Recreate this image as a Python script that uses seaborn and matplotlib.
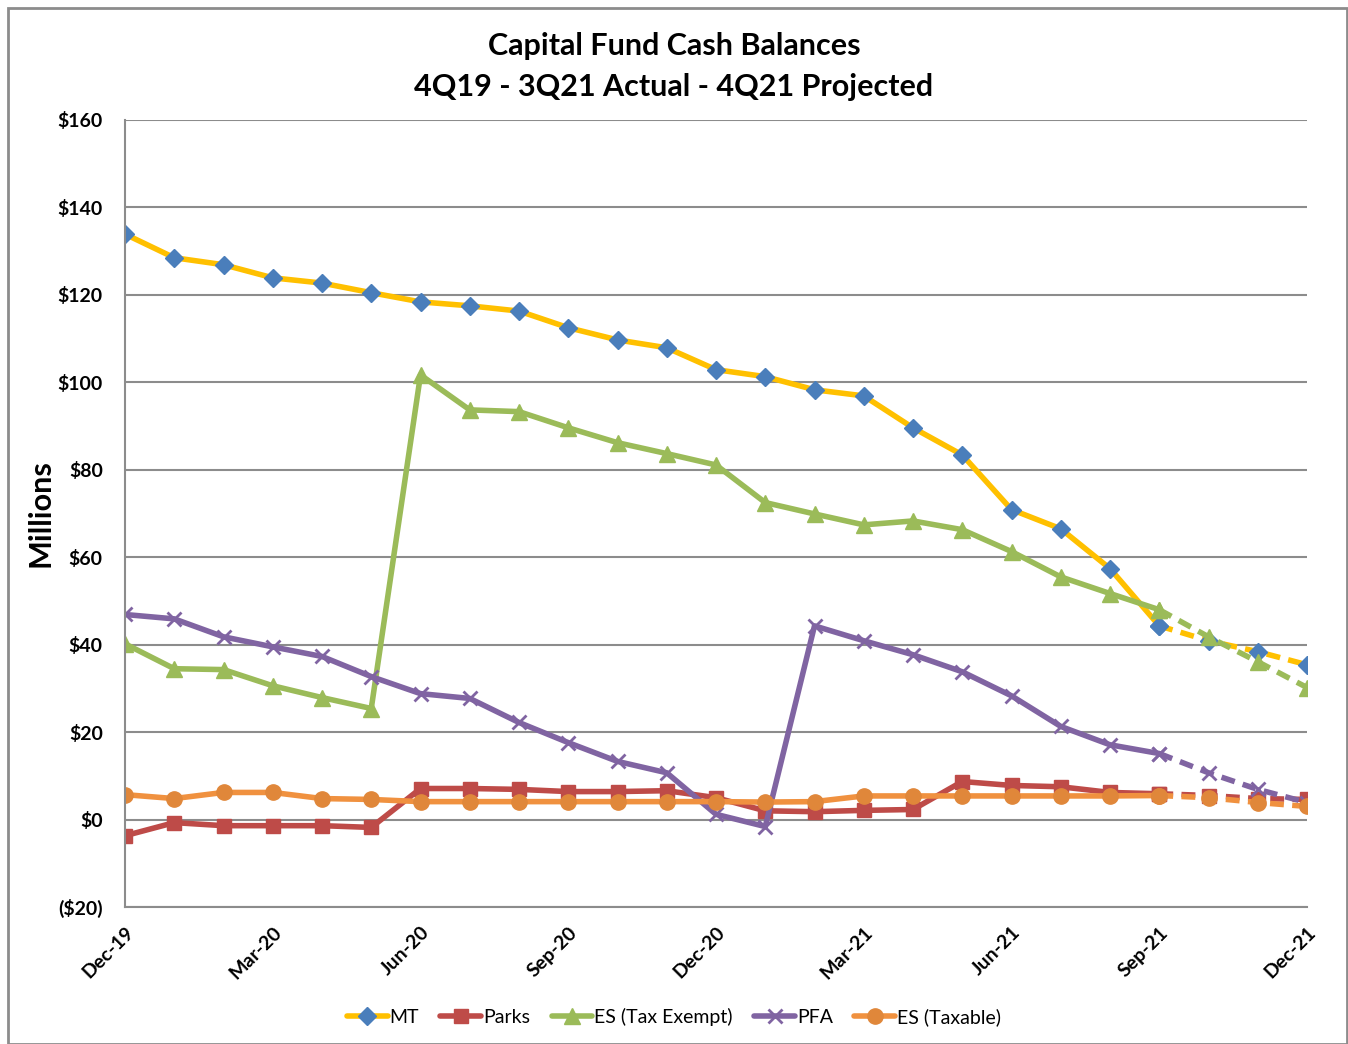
import numpy as np
import pandas as pd
import seaborn as sns
import matplotlib.pyplot as plt
from matplotlib.lines import Line2D
from matplotlib.patches import Rectangle

months = ["Dec-19", "Jan-20", "Feb-20", "Mar-20", "Apr-20", "May-20", "Jun-20", "Jul-20",
          "Aug-20", "Sep-20", "Oct-20", "Nov-20", "Dec-20", "Jan-21", "Feb-21", "Mar-21",
          "Apr-21", "May-21", "Jun-21", "Jul-21", "Aug-21", "Sep-21", "Oct-21", "Nov-21", "Dec-21"]

mt = [133.9, 128.5, 126.9, 123.9, 122.7, 120.5, 118.4, 117.5, 116.3, 112.5, 109.7, 107.9,
      102.9, 101.3, 98.3, 96.9, 89.6, 83.4, 70.9, 66.5, 57.4, 44.3, 40.9, 38.4, 35.4]
parks = [-3.7, -0.7, -1.4, -1.4, -1.4, -1.8, 7.1, 7.1, 6.9, 6.4, 6.4, 6.6,
         5.0, 2.0, 1.8, 2.1, 2.3, 8.7, 7.8, 7.5, 6.2, 5.9, 5.5, 4.8, 4.6]
es_exempt = [40.2, 34.5, 34.3, 30.6, 27.9, 25.4, 101.7, 93.7, 93.3, 89.6, 86.2, 83.7,
             81.1, 72.5, 69.9, 67.4, 68.3, 66.3, 61.3, 55.5, 51.7, 48.0, 41.8, 36.1, 30.2]
pfa = [46.9, 45.9, 41.8, 39.5, 37.3, 32.7, 28.8, 27.7, 22.2, 17.6, 13.3, 10.7,
       1.2, -1.6, 44.3, 40.9, 37.7, 33.8, 28.3, 21.3, 17.1, 15.1, 10.7, 6.9, 3.9]
es_taxable = [5.7, 4.8, 6.2, 6.2, 4.8, 4.6, 4.1, 4.1, 4.1, 4.1, 4.1, 4.1,
              4.1, 4.0, 4.1, 5.4, 5.4, 5.4, 5.4, 5.4, 5.4, 5.5, 5.0, 3.9, 3.0]

series = ["MT", "Parks", "ES (Tax Exempt)", "PFA", "ES (Taxable)"]
values = [mt, parks, es_exempt, pfa, es_taxable]
line_colors = ["#ffc000", "#be4b48", "#9bbb59", "#8064a2", "#f0913f"]
marker_colors = ["#4a7ebb", "#be4b48", "#9bbb59", "#8064a2", "#e0873a"]
markers = ["D", "s", "^", "x", "o"]
msizes = [9, 10, 11, 10, 11]

last_actual = 21  # Sep-21, after that projected

sns.set_style("white")
plt.rcParams["font.family"] = ["Lato", "DejaVu Sans"]
plt.rcParams["text.color"] = "black"
plt.rcParams["xtick.color"] = "black"
plt.rcParams["ytick.color"] = "black"
plt.rcParams["axes.labelcolor"] = "black"

fig = plt.figure(figsize=(13.48, 10.44), dpi=100)
ax = fig.add_axes([125 / 1348, 1 - 907 / 1044, (1307 - 125) / 1348, (907 - 120) / 1044])

x = np.arange(len(months))
for name, vals, lc, mc, mk, ms in zip(series, values, line_colors, marker_colors, markers, msizes):
    df = pd.DataFrame({"x": x, "y": vals})
    act = df[df["x"] <= last_actual]
    proj = df[df["x"] >= last_actual]
    kw = dict(marker=mk, markersize=ms, markerfacecolor=mc, markeredgecolor=mc,
              markeredgewidth=2 if mk == "x" else 1, color=lc, linewidth=4)
    sns.lineplot(data=act, x="x", y="y", ax=ax, **kw)
    sns.lineplot(data=proj, x="x", y="y", ax=ax, linestyle=(0, (2.5, 1.5)), **kw)

ax.set_xlim(0, len(months) - 1)
ax.set_ylim(-20, 160)
ax.set_yticks(np.arange(-20, 161, 20))
ax.set_yticklabels(["($20)"] + ["$%d" % v for v in range(0, 161, 20)],
                   fontsize=14, fontweight="bold")
ax.set_xticks(x[::3])
ax.set_xticklabels(months[::3], rotation=45, ha="right", rotation_mode="anchor",
                   fontsize=14, fontweight="bold")
ax.tick_params(axis="y", length=0, pad=16)
ax.tick_params(axis="x", length=0, pad=12)
ax.yaxis.grid(True, color="#8c8c8c", linewidth=1.5)
ax.xaxis.grid(False)
for side in ["top", "right"]:
    ax.spines[side].set_visible(False)
for side in ["left", "bottom"]:
    ax.spines[side].set_color("#8c8c8c")
    ax.spines[side].set_linewidth(1.5)
ax.set_xlabel("")
ax.set_ylabel("Millions", fontsize=22, fontweight="bold", labelpad=2)

fig.text(0.5, 1 - 46 / 1044, "Capital Fund Cash Balances", ha="center", va="center",
         fontsize=22, fontweight="bold")
fig.text(0.5, 1 - 87 / 1044, "4Q19 - 3Q21 Actual - 4Q21 Projected", ha="center", va="center",
         fontsize=22, fontweight="bold")

handles = [Line2D([0], [0], color=lc, linewidth=4, marker=mk, markersize=ms,
                  markerfacecolor=mc, markeredgecolor=mc,
                  markeredgewidth=2 if mk == "x" else 1)
           for lc, mc, mk, ms in zip(line_colors, marker_colors, markers, msizes)]
fig.legend(handles, series, loc="center", bbox_to_anchor=(0.5, 1 - 1017 / 1044),
           ncol=5, frameon=False, fontsize=14, handlelength=2.1, handletextpad=0.1,
           columnspacing=1.1)

fig.patches.append(Rectangle((8 / 1348, 0), 1339 / 1348, 1 - 8 / 1044, transform=fig.transFigure,
                             fill=False, edgecolor="#8c8c8c", linewidth=2))

fig.savefig("out.png", dpi=100)
